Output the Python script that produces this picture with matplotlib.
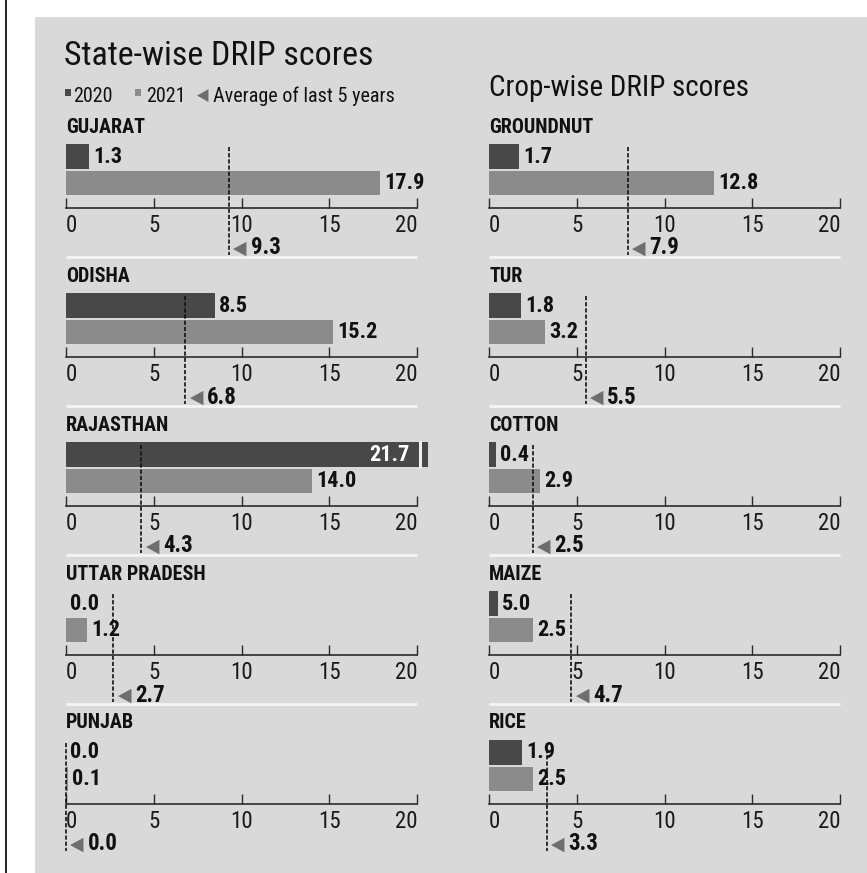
import matplotlib
matplotlib.use('Agg')
import matplotlib.pyplot as plt
from matplotlib.patches import Rectangle
from matplotlib.lines import Line2D

plt.rcParams['font.family'] = ['Roboto Condensed', 'Liberation Sans Narrow', 'DejaVu Sans']
plt.rcParams['font.stretch'] = 'condensed'

# state-wise DRIP scores
states = ['GUJARAT', 'ODISHA', 'RAJASTHAN', 'UTTAR PRADESH', 'PUNJAB']
state_2020 = [1.3, 8.5, 21.7, 0.0, 0.0]
state_2021 = [17.9, 15.2, 14.0, 1.2, 0.1]
state_avg = [9.3, 6.8, 4.3, 2.7, 0.0]
state_2020_text = ['1.3', '8.5', '21.7', '0.0', '0.0']
state_2021_text = ['17.9', '15.2', '14.0', '1.2', '0.1']

# crop-wise DRIP scores
crops = ['GROUNDNUT', 'TUR', 'COTTON', 'MAIZE', 'RICE']
crop_2020 = [1.7, 1.8, 0.4, 0.5, 1.9]
crop_2021 = [12.8, 3.2, 2.9, 2.5, 2.5]
crop_avg = [7.9, 5.5, 2.5, 4.7, 3.3]
crop_2020_text = ['1.7', '1.8', '0.4', '5.0', '1.9']  # maize label printed as 5.0 in the original
crop_2021_text = ['12.8', '3.2', '2.9', '2.5', '2.5']

ticks = [0, 5, 10, 15, 20]

W, H = 867, 873
BG = '#d9d9d9'
DARK = '#484848'
LIGHT = '#8b8b8b'
ARROW = '#6e6e6e'
INK = '#111111'
XMAX = 20.6
PX_PER_UNIT = 17.55

fig = plt.figure(figsize=(W / 100, H / 100), dpi=100)
fig.patch.set_facecolor('white')
fig.add_artist(Rectangle((35 / W, 0), 1 - 35 / W, 1 - 17 / H, transform=fig.transFigure,
                         facecolor=BG, edgecolor='none', zorder=-10))
fig.add_artist(Line2D([6 / W, 6 / W], [0, 1], color='black', lw=1.2))


def draw_group(x0, label_y, name, v20, v21, avg, t20, t21, last):
    top, bottom = label_y + 15, label_y + 81
    ax = fig.add_axes([x0 / W, 1 - bottom / H, XMAX * PX_PER_UNIT / W, (bottom - top) / H])
    ax.set_facecolor('none')
    ax.set_xlim(0, XMAX)
    ax.set_ylim(81, 15)
    for s in ['top', 'left', 'right']:
        ax.spines[s].set_visible(False)
    ax.spines['bottom'].set_bounds(0, 20)
    ax.spines['bottom'].set_color('#2b2b2b')
    ax.spines['bottom'].set_linewidth(1.2)
    ax.set_yticks([])
    ax.set_xticks(ticks)
    ax.set_xticklabels([str(t) for t in ticks], fontsize=16.5, color='#1a1a1a')
    ax.tick_params(axis='x', direction='in', length=7.5, width=1, color='#2b2b2b', pad=4)
    labs = ax.get_xticklabels()
    labs[0].set_ha('left')
    labs[-1].set_ha('right')

    ax.barh(29.5, v20, height=25, color=DARK)
    ax.barh(56, v21, height=24, color=LIGHT)

    for v, y, txt in [(v20, 29.5, t20), (v21, 56, t21)]:
        if v > XMAX:
            ax.plot([20.15, 20.15], [y - 12.5, y + 12.5], color='#eeeeee', lw=2.2)
            ax.annotate(txt, (19.6, y), ha='right', va='center', color='white',
                        fontsize=16, fontweight='bold')
        else:
            ax.annotate(txt, (v, y), xytext=(3, 0), textcoords='offset points',
                        ha='left', va='center', color=INK, fontsize=16, fontweight='bold')

    # average of last 5 years
    ax.plot([avg, avg], [20, 128], color=INK, lw=1.2, dashes=(2.5, 1.2), clip_on=False)
    ax.annotate('◀', (avg, 121), xytext=(3, 0), textcoords='offset points',
                ha='left', va='center', color=ARROW, fontsize=14, family='DejaVu Sans',
                annotation_clip=False)
    ax.annotate(f'{avg:.1f}', (avg, 121), xytext=(15.5, 0), textcoords='offset points',
                ha='left', va='center', color=INK, fontsize=16.5, fontweight='bold',
                annotation_clip=False)

    ax.text(0, 0, name, ha='left', va='center', fontsize=14.5, fontweight='bold', color=INK)
    if not last:
        ax.plot([0, 20], [130, 130], color='#f4f4f4', lw=2, clip_on=False,
                solid_capstyle='butt')


for i in range(len(states)):
    draw_group(66, 127 + 149 * i, states[i], state_2020[i], state_2021[i], state_avg[i],
               state_2020_text[i], state_2021_text[i], i == len(states) - 1)
for i in range(len(crops)):
    draw_group(489, 127 + 149 * i, crops[i], crop_2020[i], crop_2021[i], crop_avg[i],
               crop_2020_text[i], crop_2021_text[i], i == len(crops) - 1)

# titles
fig.text(64 / W, 1 - 65 / H, 'State-wise DRIP scores', fontsize=24.5, color=INK, va='baseline')
fig.text(489 / W, 1 - 96 / H, 'Crop-wise DRIP scores', fontsize=21, color=INK, va='baseline')

# legend
fig.add_artist(Rectangle((65 / W, 1 - 96 / H), 6 / W, 7 / H, transform=fig.transFigure,
                         facecolor=DARK, edgecolor='none'))
fig.text(73 / W, 1 - 102 / H, '2020', fontsize=14.5, color=INK, va='baseline')
fig.add_artist(Rectangle((135 / W, 1 - 96 / H), 6 / W, 7 / H, transform=fig.transFigure,
                         facecolor=LIGHT, edgecolor='none'))
fig.text(146 / W, 1 - 102 / H, '2021', fontsize=14.5, color=INK, va='baseline')
fig.text(197 / W, 1 - 101 / H, '◀', fontsize=12, color=ARROW, va='baseline', family='DejaVu Sans')
fig.text(213 / W, 1 - 102 / H, 'Average of last 5 years', fontsize=14.5, color=INK, va='baseline')

fig.savefig('out.png', dpi=100)
